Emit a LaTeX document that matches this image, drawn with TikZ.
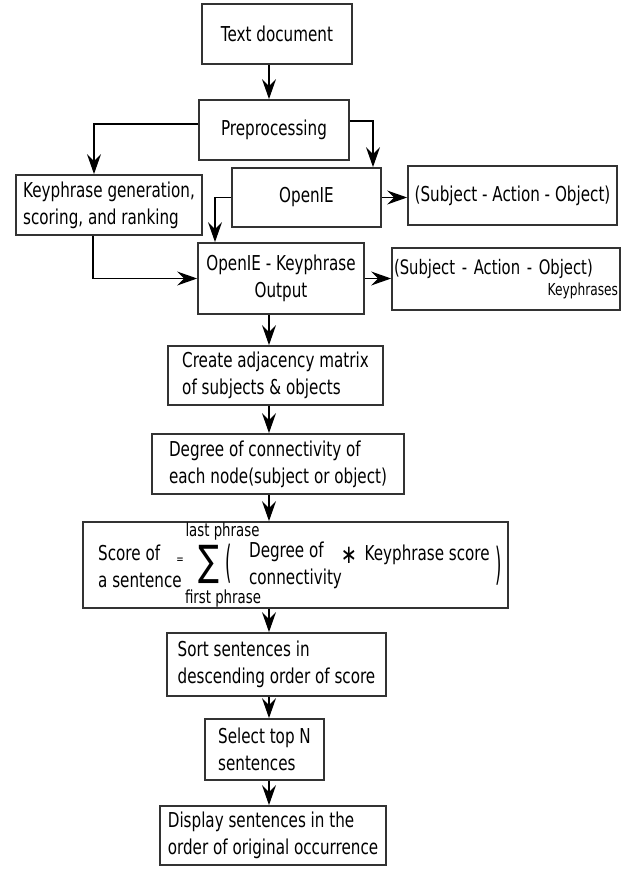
\documentclass[tikz,border=0pt]{standalone}
\usepackage{fontspec}
\setmainfont{DejaVu Sans}[FakeStretch=0.74]
\usetikzlibrary{arrows.meta}

\begin{document}
\begin{tikzpicture}[x=1pt, y=-1pt, ->, >={Stealth[length=20pt,width=14pt,inset=7pt]},
                    line width=1.2pt, font=\fontsize{20.5}{27}\selectfont]
\tikzstyle{bloc}=[draw=black!80, line width=1.8pt, inner sep=0pt, align=left]
\tikzstyle{texte}=[inner sep=0pt]
\tikzstyle{petit}=[texte, font=\fontsize{18}{18}\selectfont, anchor=base]
\tikzstyle{grand}=[texte, font=\fontsize{22}{22}\selectfont]

\useasboundingbox (0,0) rectangle (629,869);
\coordinate (axe) at (269,0);

\node[bloc, minimum width=150pt, minimum height=60pt] (doc) at (277,34) {Text document};
\node[bloc, minimum width=150pt, minimum height=60pt] (prep) at (274,130) {Preprocessing};
\node[bloc, minimum width=186pt, minimum height=60pt] (keygen) at (109,205)
    {Keyphrase generation,\\scoring, and ranking};
\node[bloc, minimum width=149pt, minimum height=59pt] (openie) at (306.5,197.5) {OpenIE};
\node[bloc, minimum width=209pt, minimum height=59pt] (sao) at (512.5,195.5)
    {(Subject - Action - Object)};
\node[bloc, align=center, minimum width=166pt, minimum height=71pt] (oko) at (281,278.5)
    {OpenIE - Keyphrase\\Output};
\node[bloc, text width=224pt, minimum width=228pt, minimum height=62pt,
      font=\fontsize{20}{21}\selectfont] (saok) at (506,279)
    {(Subject - Action - Object)\\\mbox{}\hfill{\fontsize{16.5}{21}\selectfont Keyphrases}};
\node[bloc, minimum width=215pt, minimum height=59pt] (adj) at (275.5,375.5)
    {Create adjacency matrix\\of subjects \& objects};
\node[bloc, minimum width=252pt, minimum height=60pt] (degre) at (278,464)
    {Degree of connectivity of\\each node(subject or object)};
\node[bloc, minimum width=425pt, minimum height=86pt] (score) at (295.5,565) {};
\node[bloc, minimum width=219pt, minimum height=63pt] (tri) at (276.5,664.5)
    {Sort sentences in\\descending order of score};
\node[bloc, minimum width=119pt, minimum height=61pt] (choix) at (264.5,749.5)
    {Select top N\\sentences};
\node[bloc, minimum width=226pt, minimum height=59pt] (affiche) at (273,835.5)
    {Display sentences in the\\order of original occurrence};

% contenu de la formule du score
\node[texte, align=left] (phrase) at (140,566) {Score of\\a sentence};
\node[texte, font=\fontsize{12}{12}\selectfont] (egal) at (180,561) {=};
\node[texte, font=\fontsize{42}{42}\selectfont] (somme) at (208.5,564) {∑};
\node[petit] (haut) at (222.5,536) {last phrase};
\node[petit] (bas) at (223,603) {first phrase};
\node[grand] (pg) at (229,564) {\scalebox{1}[2]{(}};
\node[texte, align=left] (conn) at (295.5,565) {Degree of\\connectivity};
\node[texte, font=\fontsize{26}{26}\selectfont] (fois) at (349,555) {∗};
\node[texte, anchor=base west] (kscore) at (364,560) {Keyphrase score};
\node[grand] (pd) at (499,566) {\scalebox{1}[2]{)}};

\path
    (doc.south -| axe) edge (prep.north -| axe)
    (openie.east) edge (openie.east -| sao.west)
    (oko.east) edge (oko.east -| saok.west)
    (oko.south -| axe) edge (adj.north -| axe)
    (adj.south -| axe) edge (degre.north -| axe)
    (degre.south -| axe) edge (score.north -| axe)
    (score.south -| axe) edge (tri.north -| axe)
    (tri.south -| axe) edge (choix.north -| axe)
    (choix.south -| axe) edge (affiche.north -| axe);
\draw ([yshift=6pt]prep.west) -| ([xshift=-15pt]keygen.north);
\draw ([yshift=9pt]prep.east) -| ([xshift=66.5pt]openie.north);
\draw (openie.west) -| ([xshift=-66pt]oko.north);
\draw ([xshift=-16pt]keygen.south) |- (oko.west);
\end{tikzpicture}
\end{document}
